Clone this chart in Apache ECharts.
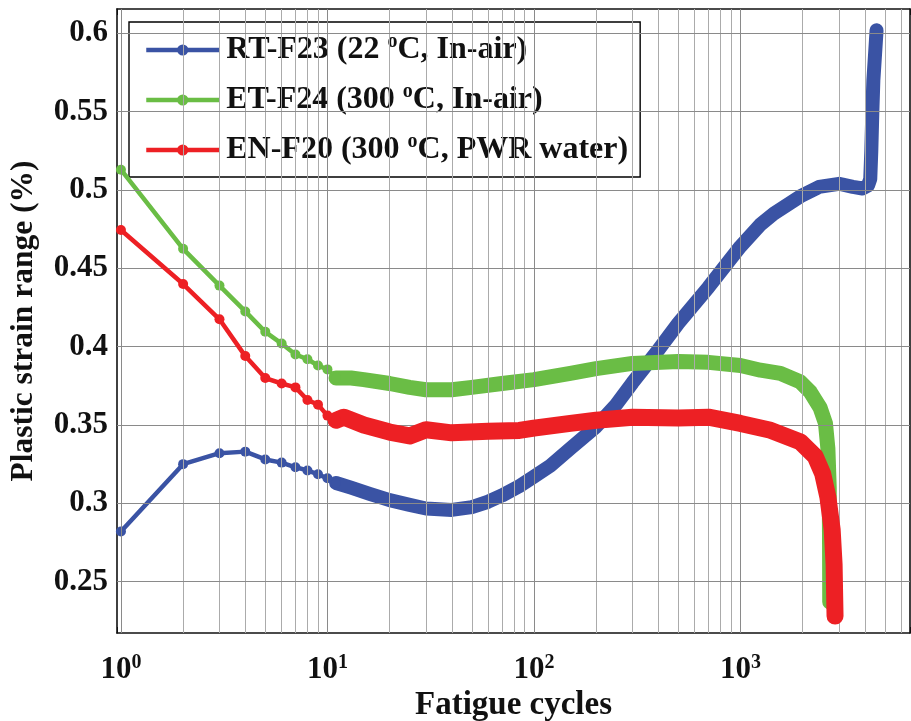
<!DOCTYPE html>
<html>
<head>
<meta charset="utf-8">
<script src="https://cdn.jsdelivr.net/npm/echarts@6/dist/echarts.min.js"></script>
<style>
  html, body { margin: 0; padding: 0; background: #fff; }
  #chart { width: 911px; height: 721px; }
</style>
</head>
<body>
<div id="chart"></div>
<script>
// Specimens and test conditions
const specimens = ['RT-F23', 'ET-F24', 'EN-F20'];
const temperatures = ['22', '300', '300'];
const environments = ['In-air', 'In-air', 'PWR water'];

// RT-F23, 22 °C in air
const rtCycles = [1, 2, 3, 4, 5, 6, 7, 8, 9, 10, 11, 13, 16, 20, 25, 30, 40, 50, 60, 70, 85, 100, 120, 150,
  200, 250, 300, 390, 500, 700, 1000, 1250, 1450, 1950, 2400, 3000, 3500, 3900, 4150, 4250, 4300, 4350,
  4400, 4500, 4560];
const rtStrain = [0.282, 0.325, 0.332, 0.333, 0.328, 0.326, 0.323, 0.321, 0.3185, 0.316, 0.313, 0.310, 0.306,
  0.302, 0.299, 0.2967, 0.2958, 0.2976, 0.301, 0.305, 0.311, 0.317, 0.324, 0.335,
  0.349, 0.363, 0.377, 0.396, 0.415, 0.438, 0.464, 0.478, 0.485, 0.496, 0.502, 0.504, 0.502, 0.501, 0.503,
  0.507, 0.525, 0.55, 0.57, 0.59, 0.602];

// ET-F24, 300 °C in air
const etCycles = [1, 2, 3, 4, 5, 6, 7, 8, 9, 10, 11, 13, 15, 20, 25, 30, 40, 50, 70, 100, 150, 200, 300, 500,
  700, 1000, 1250, 1560, 1950, 2180, 2430, 2580, 2650, 2690, 2700, 2705];
const etStrain = [0.513, 0.4625, 0.439, 0.4225, 0.4095, 0.402, 0.395, 0.392, 0.388, 0.3855, 0.380, 0.380,
  0.379, 0.3765, 0.374, 0.3725, 0.3725, 0.374, 0.3765, 0.379, 0.383, 0.386, 0.3893, 0.3905,
  0.390, 0.388, 0.385, 0.383, 0.3775, 0.371, 0.361, 0.351, 0.335, 0.31, 0.27, 0.237];

// EN-F20, 300 °C in PWR water
const enCycles = [1, 2, 3, 4, 5, 6, 7, 8, 9, 10, 11, 12, 15, 20, 25, 30, 40, 60, 85, 100, 150, 200, 300, 500,
  700, 1000, 1400, 1950, 2300, 2500, 2650, 2780, 2840, 2870];
const enStrain = [0.4745, 0.440, 0.4175, 0.394, 0.380, 0.3765, 0.374, 0.366, 0.363, 0.356, 0.353, 0.355,
  0.350, 0.3455, 0.343, 0.347, 0.345, 0.346, 0.3465, 0.348, 0.351, 0.353, 0.355, 0.3545,
  0.355, 0.351, 0.3466, 0.3392, 0.330, 0.319, 0.304, 0.283, 0.261, 0.228];

// Axis ticks
const yTicks = [0.25, 0.3, 0.35, 0.4, 0.45, 0.5, 0.55, 0.6];
const xDecades = [1, 10, 100, 1000];

const colors = ['#3a53a4', '#6abd45', '#ed2024'];
const bandWidths = [14, 15, 17];
const lastSparseCycle = 11;   // beyond this the markers merge into a continuous band

const cyclesBySpecimen = [rtCycles, etCycles, enCycles];
const strainBySpecimen = [rtStrain, etStrain, enStrain];

const FONT = '"Times New Roman", "Liberation Serif", serif';
const X_MIN = 0.957, X_MAX = 6620;
const Y_MIN = 0.2172, Y_MAX = 0.6156;

// grid lines: decades are darker, intermediate cycles lighter
const gridLines = [];
xDecades.forEach(d => {
  gridLines.push({ xAxis: d, lineStyle: { color: '#8a8a8a', width: 1, type: 'solid' } });
  for (let k = 2; k <= 9; k++) {
    if (d * k < X_MAX) gridLines.push({ xAxis: d * k, lineStyle: { color: '#ababab', width: 1, type: 'solid' } });
  }
});
yTicks.forEach(v => {
  gridLines.push({ yAxis: v, lineStyle: { color: '#8a8a8a', width: 1, type: 'solid' } });
});

const series = [{
  name: 'grid',
  type: 'line',
  data: [],
  silent: true,
  z: 1,
  markLine: {
    silent: true,
    symbol: ['none', 'none'],
    label: { show: false },
    animation: false,
    data: gridLines
  }
}];

specimens.forEach((name, i) => {
  const pts = cyclesBySpecimen[i].map((c, j) => [c, strainBySpecimen[i][j]]);
  const sparse = pts.filter(p => p[0] <= lastSparseCycle);
  const dense = pts.filter(p => p[0] >= lastSparseCycle);
  series.push({
    name: name,
    type: 'line',
    data: sparse,
    symbol: 'circle',
    symbolSize: 10,
    itemStyle: { color: colors[i] },
    lineStyle: { color: colors[i], width: 4.5 },
    z: 3 + i,
    animation: false
  });
  series.push({
    name: name,
    type: 'line',
    data: dense,
    showSymbol: false,
    symbol: 'circle',
    itemStyle: { color: colors[i] },
    lineStyle: { color: colors[i], width: bandWidths[i], cap: 'round', join: 'round' },
    z: 3 + i,
    animation: false
  });
});

const chart = echarts.init(document.getElementById('chart'));
chart.setOption({
  animation: false,
  backgroundColor: '#fff',
  textStyle: { fontFamily: FONT },
  grid: { left: 117, right: 1, top: 9, bottom: 88, outerBoundsMode: 'none', containLabel: false },
  legend: {
    data: specimens,
    orient: 'vertical',
    left: 129,
    top: 22,
    padding: [10, 12, 9, 15],
    itemWidth: 73,
    itemHeight: 14,
    itemGap: 14,
    backgroundColor: '#fff',
    borderColor: '#000',
    borderWidth: 1.4,
    borderRadius: 0,
    selectedMode: false,
    lineStyle: { width: 4.5 },
    formatter: name => {
      const i = specimens.indexOf(name);
      return name + ' (' + temperatures[i] + ' {sup|o}C, ' + environments[i] + ')';
    },
    textStyle: {
      fontFamily: FONT, fontSize: 32, fontWeight: 'bold', color: '#111', lineHeight: 36, padding: [0, 0, 0, 2],
      rich: { sup: { fontFamily: FONT, fontSize: 20, fontWeight: 'bold', color: '#111', verticalAlign: 'top', lineHeight: 36, padding: [0, 0, 13, 0] } }
    }
  },
  xAxis: [{
    type: 'log',
    logBase: 10,
    min: X_MIN,
    max: X_MAX,
    name: 'Fatigue cycles',
    nameLocation: 'middle',
    nameGap: 56,
    nameMoveOverlap: false,
    nameTextStyle: { fontFamily: FONT, fontSize: 33, fontWeight: 'bold', color: '#111' },
    axisLine: { show: true, onZero: false, lineStyle: { color: '#111', width: 1.6 } },
    axisTick: { show: true, inside: true, length: 6, lineStyle: { color: '#111', width: 1 } },
    splitLine: { show: false },
    axisLabel: {
      margin: 20,
      color: '#111',
      fontFamily: FONT, fontSize: 31, fontWeight: 'bold',
      formatter: v => {
        const e = Math.round(Math.log10(v));
        if (Math.abs(Math.pow(10, e) - v) / v > 1e-6) return '';
        return '10{sup|' + e + '}';
      },
      rich: { sup: { fontFamily: FONT, fontSize: 20, fontWeight: 'bold', color: '#111', verticalAlign: 'top', padding: [0, 0, 14, 0] } }
    }
  }, {
    type: 'log',
    logBase: 10,
    min: X_MIN,
    max: X_MAX,
    position: 'top',
    axisLine: { show: true, onZero: false, lineStyle: { color: '#111', width: 1.6 } },
    axisTick: { show: true, inside: true, length: 6, lineStyle: { color: '#111', width: 1 } },
    axisLabel: { show: false },
    splitLine: { show: false }
  }],
  yAxis: [{
    type: 'value',
    min: Y_MIN,
    max: Y_MAX,
    name: 'Plastic strain range (%)',
    nameLocation: 'middle',
    nameGap: 77,
    nameMoveOverlap: false,
    nameTextStyle: { fontFamily: FONT, fontSize: 31.5, fontWeight: 'bold', color: '#111' },
    axisLine: { show: true, onZero: false, lineStyle: { color: '#111', width: 1.6 } },
    axisTick: { show: true, inside: true, length: 6, customValues: yTicks, lineStyle: { color: '#111', width: 1 } },
    axisLabel: {
      customValues: yTicks,
      margin: 9,
      color: '#111',
      fontFamily: FONT, fontSize: 31, fontWeight: 'bold',
      formatter: v => String(+v.toFixed(2))
    },
    splitLine: { show: false }
  }, {
    type: 'value',
    min: Y_MIN,
    max: Y_MAX,
    position: 'right',
    axisLine: { show: true, onZero: false, lineStyle: { color: '#111', width: 1.6 } },
    axisTick: { show: true, inside: true, length: 6, customValues: yTicks, lineStyle: { color: '#111', width: 1 } },
    axisLabel: { show: false },
    splitLine: { show: false }
  }],
  series: series
});
</script>
</body>
</html>
